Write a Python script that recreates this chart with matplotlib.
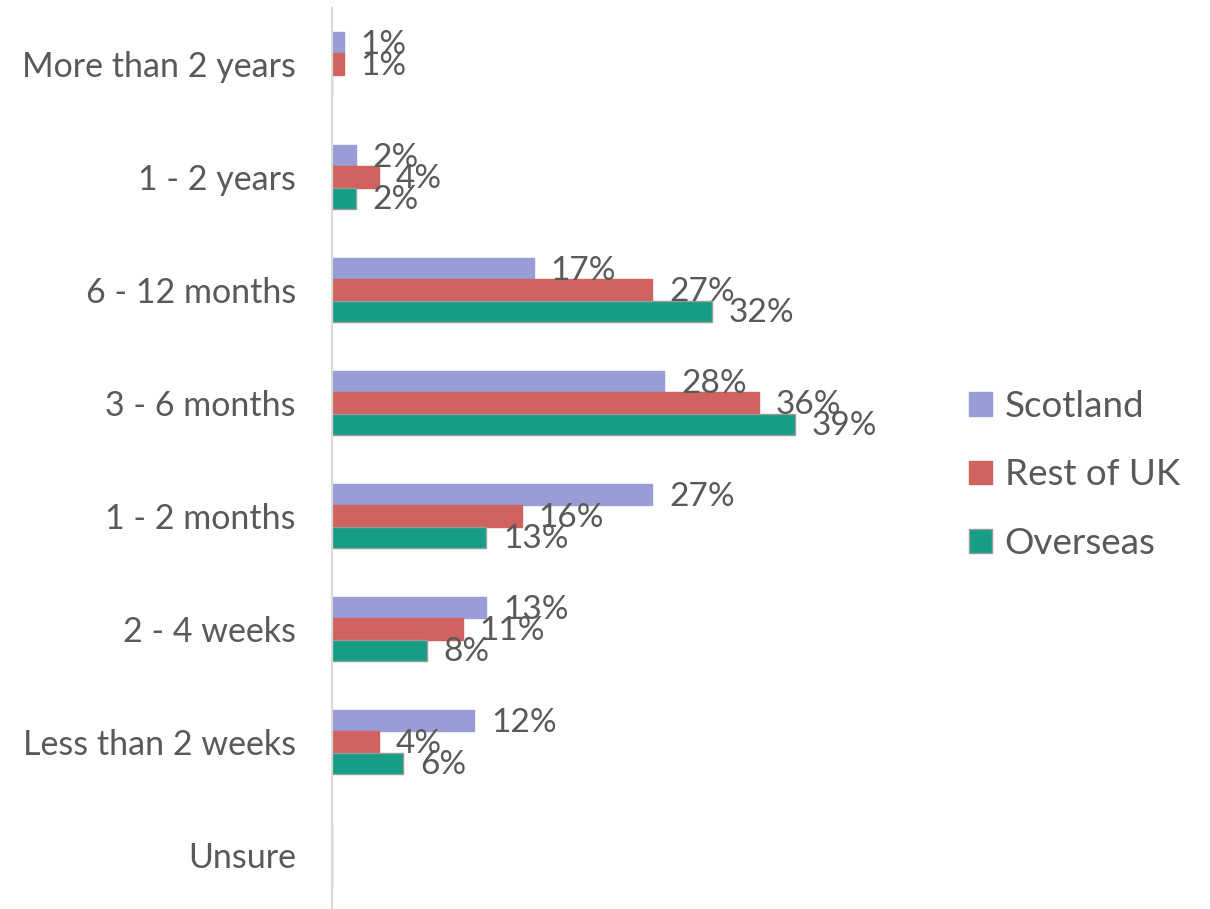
import numpy as np
import matplotlib.pyplot as plt

categories = ['More than 2 years', '1 - 2 years', '6 - 12 months', '3 - 6 months',
              '1 - 2 months', '2 - 4 weeks', 'Less than 2 weeks', 'Unsure']
scotland = [1, 2, 17, 28, 27, 13, 12, None]
rest_of_uk = [1, 4, 27, 36, 16, 11, 4, None]
overseas = [None, 2, 32, 39, 13, 8, 6, None]

series = [('Scotland', scotland, '#999dd6', '#999dd6'),
          ('Rest of UK', rest_of_uk, '#d0635f', '#d0635f'),
          ('Overseas', overseas, '#169d85', '#9a9a9a')]

plt.rcParams['font.family'] = ['Lato', 'DejaVu Sans']
txt = '#595959'

fig = plt.figure(figsize=(12.1, 9.09), dpi=100)
ax = fig.add_axes([332 / 1210, -2.5 / 909, 534 / 1210, 904 / 909])

y = np.arange(len(categories))
h = 0.186
for i, (name, vals, col, edge) in enumerate(series):
    v = np.array([np.nan if x is None else x for x in vals], dtype=float)
    pos = y + (i - 1) * h
    ax.barh(pos, np.nan_to_num(v), height=h, color=col, edgecolor=edge,
            linewidth=1, label=name)
    for p, val in zip(pos, v):
        if np.isnan(val):
            continue
        ax.annotate(f'{int(val)}%', (val, p), xytext=(12, -1.5),
                    textcoords='offset points', va='center', ha='left',
                    fontsize=24, color=txt)

ax.set_xlim(0, 45)
ax.set_ylim(len(categories) - 0.5, -0.5)
ax.set_yticks(y)
ax.set_yticklabels(categories, fontsize=24.5, color=txt)
ax.tick_params(axis='y', length=0, pad=26)
ax.set_xticks([])
for s in ['top', 'right', 'bottom']:
    ax.spines[s].set_visible(False)
ax.spines['left'].set_color('#d9d9d9')
ax.spines['left'].set_linewidth(1.5)

fig.legend(loc='center left', bbox_to_anchor=(969 / 1210, 1 - 475 / 909),
           frameon=False, fontsize=26.5, labelcolor=txt, handlelength=0.62,
           handleheight=0.62, handletextpad=0.35, labelspacing=0.96,
           borderpad=0, borderaxespad=0)

fig.savefig('out.png', dpi=100)
